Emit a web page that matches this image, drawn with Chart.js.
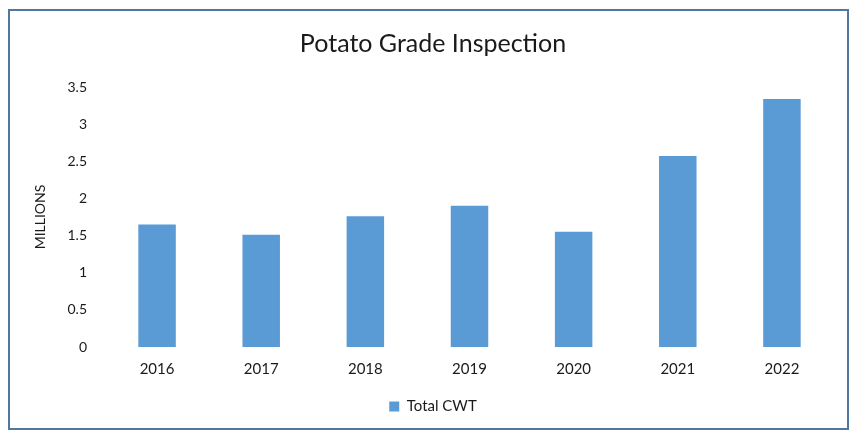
<!DOCTYPE html>
<html>
<head>
<meta charset="utf-8">
<script src="https://cdn.jsdelivr.net/npm/chart.js@4.4.0/dist/chart.umd.min.js"></script>
<style>
  body { margin: 0; background: #fff; }
  #frame {
    position: absolute; left: 8px; top: 9px;
    width: 837px; height: 417px;
    border: 2px solid #50789f;
  }
</style>
</head>
<body>
<div id="frame"><canvas id="potatoChart" width="837" height="417"></canvas></div>
<script>
const years = ['2016', '2017', '2018', '2019', '2020', '2021', '2022'];
const totalCwt = [1.65, 1.51, 1.76, 1.90, 1.55, 2.57, 3.34];
const yTicks = [0, 0.5, 1, 1.5, 2, 2.5, 3, 3.5];

const font = 'Lato, "Open Sans", sans-serif';
const ctx = document.getElementById('potatoChart').getContext('2d');

const chart = new Chart(ctx, {
    type: 'bar',
    data: {
        labels: years,
        datasets: [{
            label: 'Total CWT',
            data: totalCwt,
            backgroundColor: '#5b9bd5',
            barPercentage: 0.36,
            categoryPercentage: 1
        }]
    },
    options: {
        responsive: false,
        animation: false,
        layout: { padding: { left: 22, right: 13, top: 0, bottom: 4 } },
        plugins: {
            title: {
                display: true,
                text: 'Potato Grade Inspection',
                color: '#1a1a1a',
                font: { family: font, size: 25, weight: 'normal' },
                padding: { top: 18, bottom: 28 }
            },
            legend: {
                position: 'bottom',
                labels: {
                    color: '#1a1a1a',
                    font: { family: font, size: 15 },
                    boxWidth: 10,
                    boxHeight: 10,
                    padding: 6
                }
            },
            tooltip: { enabled: false }
        },
        scales: {
            x: {
                grid: { display: false },
                border: { display: false },
                ticks: { color: '#1a1a1a', font: { family: font, size: 15 }, padding: 5 },
                afterFit: function (scale) { scale.height = 46; }
            },
            y: {
                min: 0,
                max: 3.5,
                afterBuildTicks: function (scale) {
                    scale.ticks = yTicks.map(v => ({ value: v }));
                },
                grid: { display: false },
                border: { display: false },
                ticks: {
                    color: '#1a1a1a',
                    font: { family: font, size: 14 },
                    padding: 10,
                    callback: function (v) { return String(v); }
                },
                title: {
                    display: true,
                    text: 'MILLIONS',
                    color: '#1a1a1a',
                    font: { family: font, size: 14 },
                    padding: { top: 0, bottom: 14 }
                },
                afterFit: function (scale) { scale.width = 73; }
            }
        }
    }
});
</script>
</body>
</html>
